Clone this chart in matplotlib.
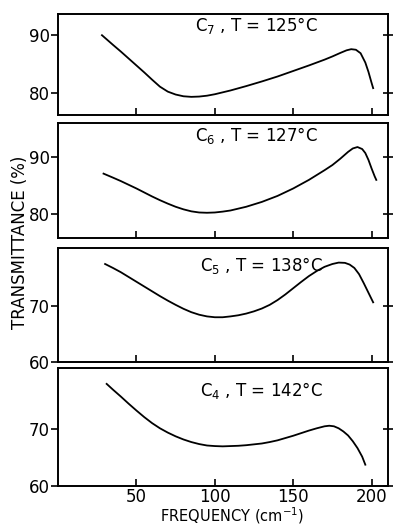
import matplotlib
matplotlib.use("Agg")
import matplotlib.pyplot as plt

# Data (frequency in cm^-1, transmittance in %)
x_c7 = [28, 35, 40, 45, 50, 55, 60, 65, 70, 75, 80, 85, 90, 95, 100, 110, 120, 130, 140,
        150, 160, 170, 175, 180, 184, 187, 190, 193, 196, 198, 200, 201]
y_c7 = [90.0, 88.35, 87.2, 86.0, 84.8, 83.6, 82.35, 81.15, 80.3, 79.8, 79.5, 79.4, 79.45, 79.6,
        79.85, 80.5, 81.25, 82.05, 82.9, 83.85, 84.8, 85.8, 86.35, 86.95, 87.4, 87.6, 87.5,
        86.9, 85.3, 83.7, 81.8, 80.9]

x_c6 = [29, 35, 40, 45, 50, 55, 60, 65, 70, 75, 80, 85, 90, 95, 100, 105, 110, 120, 130,
        140, 150, 160, 170, 175, 180, 185, 188, 191, 194, 196, 198, 200, 202, 203]
y_c6 = [87.1, 86.4, 85.8, 85.15, 84.5, 83.8, 83.1, 82.45, 81.85, 81.3, 80.85, 80.5, 80.3,
        80.25, 80.3, 80.45, 80.65, 81.3, 82.15, 83.2, 84.5, 86.0, 87.7, 88.6, 89.7, 90.9,
        91.5, 91.75, 91.4, 90.7, 89.5, 88.0, 86.6, 86.0]

x_c5 = [30, 35, 40, 45, 50, 55, 60, 65, 70, 75, 80, 85, 90, 95, 100, 105, 110, 115, 120,
        125, 130, 135, 140, 145, 150, 155, 160, 165, 170, 175, 179, 183, 186, 189, 192,
        195, 198, 201]
y_c5 = [77.4, 76.7, 75.95, 75.1, 74.25, 73.4, 72.55, 71.7, 70.9, 70.15, 69.45, 68.85, 68.4,
        68.1, 67.95, 67.95, 68.1, 68.3, 68.6, 69.0, 69.5, 70.15, 71.0, 72.0, 73.1, 74.2,
        75.25, 76.15, 76.9, 77.4, 77.65, 77.6, 77.3, 76.7, 75.6, 74.0, 72.3, 70.6]

x_c4 = [31, 35, 40, 45, 50, 55, 60, 65, 70, 75, 80, 85, 90, 95, 100, 105, 110, 115, 120,
        125, 130, 135, 140, 145, 150, 155, 160, 165, 170, 173, 176, 179, 182, 185, 188,
        191, 194, 196]
y_c4 = [77.8, 76.8, 75.6, 74.35, 73.15, 72.0, 70.95, 70.05, 69.3, 68.65, 68.1, 67.65, 67.3,
        67.05, 66.95, 66.9, 66.95, 67.0, 67.1, 67.25, 67.4, 67.65, 67.95, 68.35, 68.75,
        69.2, 69.65, 70.05, 70.4, 70.5, 70.4, 70.05, 69.5, 68.8, 67.8, 66.6, 65.1, 63.7]

labels = ["C$_7$ , T = 125°C", "C$_6$ , T = 127°C", "C$_5$ , T = 138°C", "C$_4$ , T = 142°C"]
yticks = [[80, 90], [80, 90], [60, 70], [60, 70]]
xticks = [50, 100, 150, 200]
xticklabels = ["50", "100", "150", "200"]

series = [(x_c7, y_c7), (x_c6, y_c6), (x_c5, y_c5), (x_c4, y_c4)]
ylims = [(76.3, 93.7), (75.8, 95.9), (60, 80.2), (60, 80.6)]
boxes = [(0.147, 0.782, 0.835, 0.192),
         (0.147, 0.548, 0.835, 0.218),
         (0.147, 0.313, 0.835, 0.216),
         (0.147, 0.078, 0.835, 0.224)]
label_pos = [(0.415, 0.88), (0.415, 0.896), (0.43, 0.85), (0.43, 0.81)]

plt.rcParams['font.family'] = ['DejaVu Sans']
fig = plt.figure(figsize=(3.95, 5.27), dpi=100)

for i, ((xs, ys), box) in enumerate(zip(series, boxes)):
    ax = fig.add_axes(box)
    ax.plot(xs, ys, color='black', lw=1.3)
    ax.set_xlim(0, 210.4)
    ax.set_ylim(*ylims[i])
    ax.set_yticks(yticks[i])
    ax.set_xticks(xticks)
    if i == 3:
        ax.set_xticklabels(xticklabels, fontsize=12)
    else:
        ax.set_xticklabels([])
    ax.tick_params(axis='x', direction='in', length=5, width=1.2, bottom=True, top=False, pad=1.5)
    ax.tick_params(axis='y', direction='out', length=5, width=1.2, labelsize=12, pad=1)
    for sp in ax.spines.values():
        sp.set_linewidth(1.4)
    axr = ax.twinx()
    axr.set_ylim(*ylims[i])
    axr.set_yticks(yticks[i])
    axr.tick_params(axis='y', direction='inout', length=7, width=1.2, labelright=False)
    for sp in axr.spines.values():
        sp.set_visible(False)
    ax.text(label_pos[i][0], label_pos[i][1], labels[i], transform=ax.transAxes,
            fontsize=12, ha='left', va='center')

fig.text(0.05, 0.54, "TRANSMITTANCE (%)", rotation=90, ha='center', va='center', fontsize=12)
fig.text(0.588, 0.022, "FREQUENCY (cm$^{-1}$)", ha='center', va='center', fontsize=10.5)

fig.savefig("out.png", dpi=100)
